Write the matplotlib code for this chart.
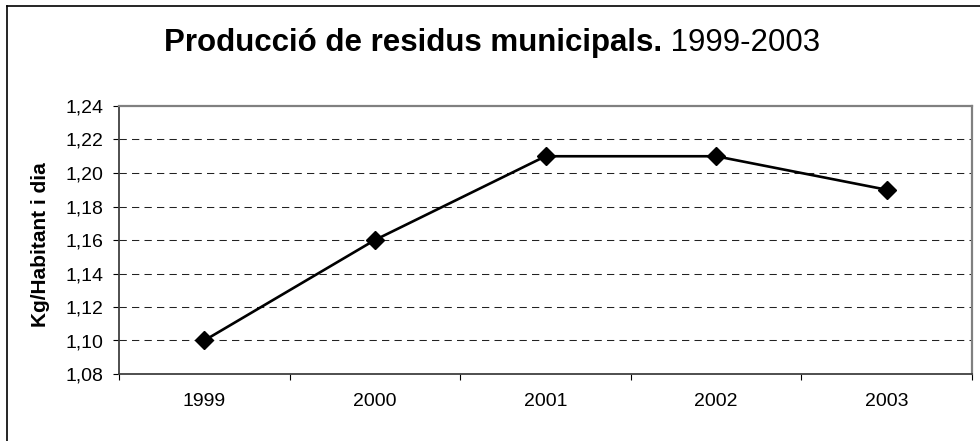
import matplotlib.pyplot as plt
from matplotlib.lines import Line2D

# data
years = ["1999", "2000", "2001", "2002", "2003"]
kg_hab_dia = [1.10, 1.16, 1.21, 1.21, 1.19]
yticks = [1.08, 1.10, 1.12, 1.14, 1.16, 1.18, 1.20, 1.22, 1.24]

plt.rcParams['font.family'] = ['Liberation Sans', 'DejaVu Sans']

W, H = 980, 441
fig = plt.figure(figsize=(W / 100, H / 100), dpi=100)
ax = fig.add_axes([119 / W, 1 - 374 / H, (972 - 119) / W, (374 - 106) / H])

x = list(range(len(years)))
ax.plot(x, kg_hab_dia, color='black', linewidth=1.9, marker='D',
        markersize=9.5, markerfacecolor='black', markeredgecolor='black',
        zorder=3)

ax.set_xlim(-0.5, len(years) - 0.5)
ax.set_ylim(1.08, 1.24)

# categories between ticks
ax.set_xticks([i - 0.5 for i in range(len(years) + 1)])
ax.set_xticklabels([])
ax.set_xticks(x, minor=True)
ax.set_xticklabels(years, minor=True, fontsize=14)
ax.tick_params(axis='x', which='minor', length=0, pad=14)
ax.tick_params(axis='x', which='major', length=4.5, width=0.8, direction='out')

ax.set_yticks(yticks)
ax.set_yticklabels([f"{v:.2f}".replace('.', ',') for v in yticks], fontsize=14)
ax.tick_params(axis='y', length=4.5, width=0.8, direction='out', pad=7)

for v in yticks[1:-1]:
    ax.axhline(v, color='#222222', linewidth=0.75, linestyle=(0, (7, 5)),
               zorder=1)

ax.spines['left'].set_color('#404040')
ax.spines['bottom'].set_color('#404040')
ax.spines['left'].set_linewidth(1.3)
ax.spines['bottom'].set_linewidth(1.3)
ax.spines['top'].set_color('#808080')
ax.spines['right'].set_color('#808080')
ax.spines['top'].set_linewidth(1.6)
ax.spines['right'].set_linewidth(1.6)

fig.text(41 / W, 1 - 245 / H, "Kg/Habitant i dia", rotation=90,
         ha='center', va='center', fontsize=15, fontweight='bold')

# title: bold part + regular part
t1 = fig.text(0.5, 1 - 43 / H, "Producció de residus municipals.",
              ha='right', va='center', fontsize=22.5, fontweight='bold')
t2 = fig.text(0.5, 1 - 43 / H, " 1999-2003", ha='left', va='center',
              fontsize=22.5)
fig.canvas.draw()
w1 = t1.get_window_extent().width
w2 = t2.get_window_extent().width
cx = 492 / W
t1.set_x(cx + (w1 - (w1 + w2) / 2) / W)
t2.set_x(cx + (w1 - (w1 + w2) / 2) / W)

# outer chart border (left and top visible)
fig.add_artist(Line2D([7 / W, 7 / W], [0, 1 - 5.5 / H], color='black',
                      linewidth=1.2, transform=fig.transFigure))
fig.add_artist(Line2D([7 / W, 1], [1 - 5.5 / H, 1 - 5.5 / H], color='black',
                      linewidth=1.2, transform=fig.transFigure))

fig.savefig("out.png", dpi=100)
